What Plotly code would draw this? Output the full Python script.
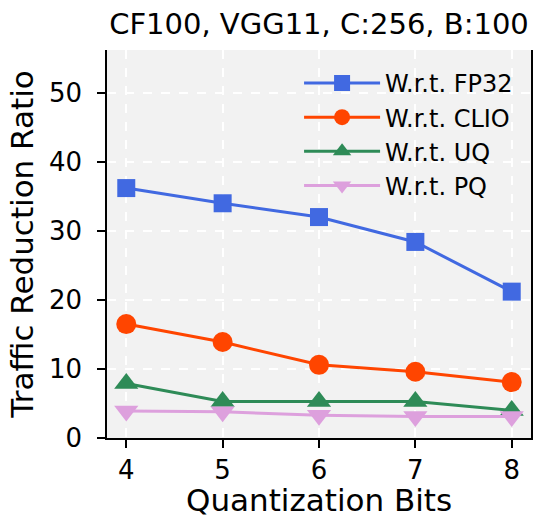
import plotly.graph_objects as go

bits = [4, 5, 6, 7, 8]
fp32 = [36.2, 34.0, 32.0, 28.4, 21.2]
clio = [16.5, 13.9, 10.6, 9.6, 8.1]
uq = [7.9, 5.3, 5.3, 5.3, 4.0]
pq = [3.9, 3.8, 3.3, 3.1, 3.1]

series = [
    ("W.r.t. FP32", fp32, "#4169E1", "square", 18),
    ("W.r.t. CLIO", clio, "#FF4500", "circle", 20),
    ("W.r.t. UQ", uq, "#2E8B57", "triangle-up", 21),
    ("W.r.t. PQ", pq, "#DDA0DD", "triangle-down", 21),
]

FONT = "DejaVu Sans"
fig = go.Figure()
for name, vals, color, sym, size in series:
    fig.add_trace(go.Scatter(
        x=bits, y=vals, mode="lines+markers", name=name,
        line=dict(color=color, width=3),
        marker=dict(symbol=sym, size=size, color=color, line=dict(width=0)),
    ))

fig.add_annotation(text="Quantization Bits", xref="paper", yref="paper",
                   x=0.5, y=-0.2085, xanchor="center", yanchor="bottom",
                   showarrow=False, borderpad=0,
                   font=dict(size=31, family=FONT, color="black"))

fig.update_layout(
    width=533, height=519,
    margin=dict(l=107, r=2, t=50, b=81),
    paper_bgcolor="white",
    plot_bgcolor="#f2f2f2",
    font=dict(family=FONT, color="black", size=26),
    title=dict(text="CF100, VGG11, C:256, B:100", font=dict(size=29, family=FONT),
               x=0.5, xref="paper", y=1 - 24 / 519, yref="container",
               xanchor="center", yanchor="middle"),
    showlegend=True,
    legend=dict(x=0.453, y=0.972, xanchor="left", yanchor="top",
                bgcolor="rgba(0,0,0,0)", font=dict(size=24, family=FONT),
                itemwidth=76),
    xaxis=dict(range=[3.8, 8.2], tickvals=bits, ticks="outside", ticklen=8,
               tickwidth=1.6, tickcolor="black", showline=True, linecolor="black",
               linewidth=1.6, mirror=False, showgrid=True, gridcolor="white",
               griddash="dash", gridwidth=1.5, zeroline=False,
               tickfont=dict(size=26), automargin=False),
    yaxis=dict(range=[0, 56.2], tickvals=[0, 10, 20, 30, 40, 50], ticks="outside",
               ticklen=8, tickwidth=1.6, tickcolor="black", showline=True,
               linecolor="black", linewidth=1.6, mirror=True, showgrid=True,
               gridcolor="white", griddash="dash", gridwidth=1.5, zeroline=False,
               tickfont=dict(size=26), ticklabelstandoff=10,
               title=dict(text="Traffic Reduction Ratio", font=dict(size=31), standoff=6),
               automargin=False),
)

fig.write_html("out.html")
